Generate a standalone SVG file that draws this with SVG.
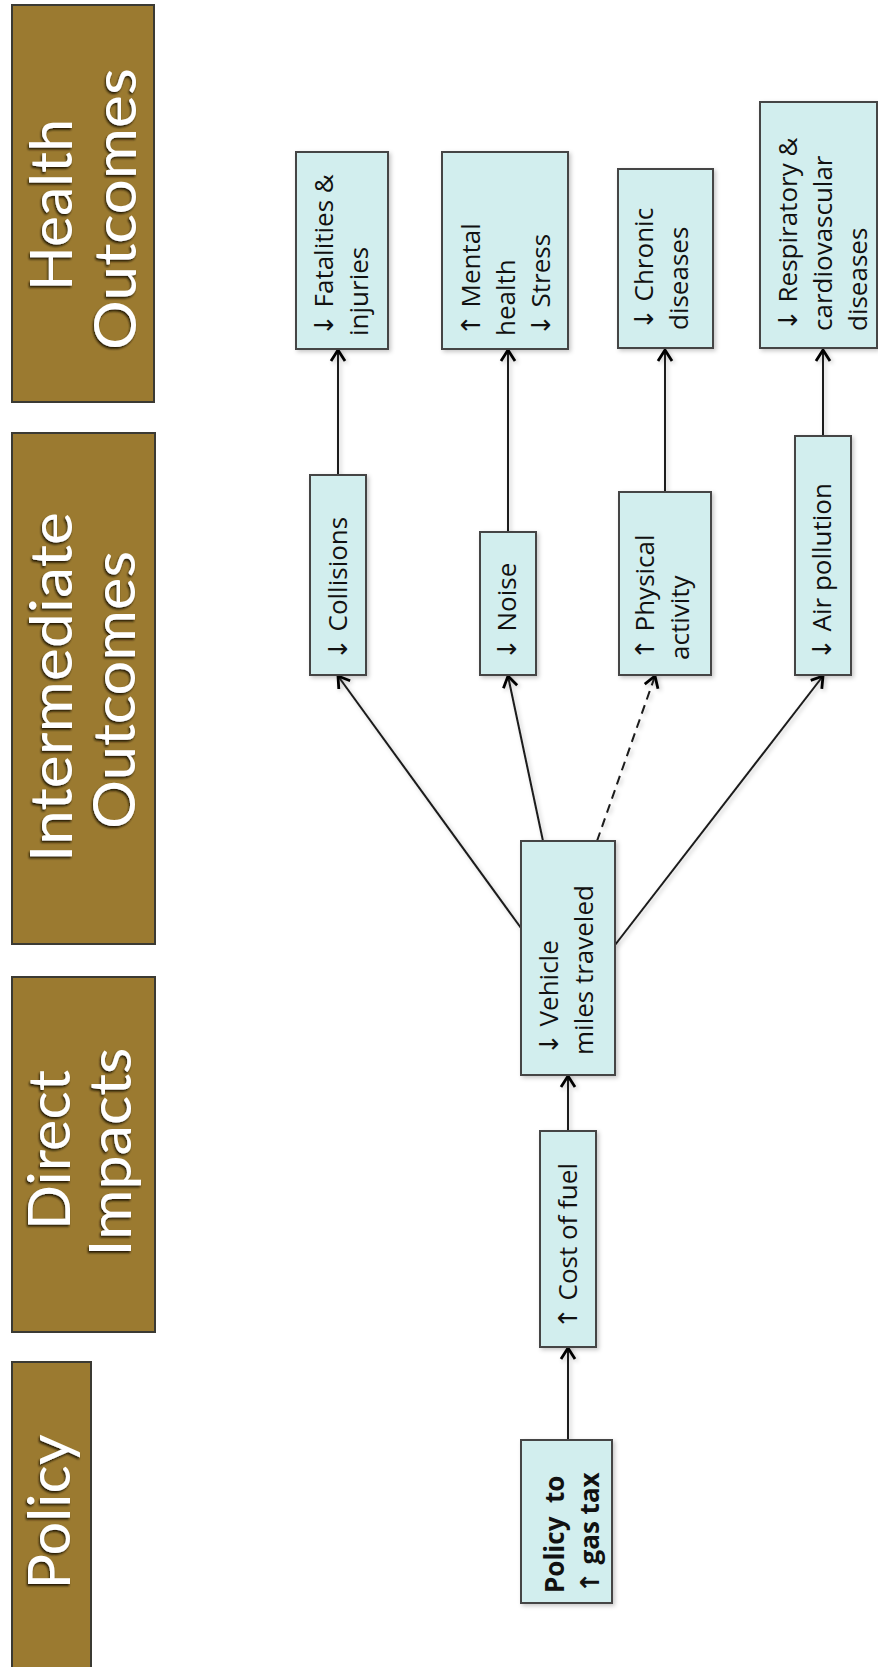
<svg xmlns="http://www.w3.org/2000/svg" width="878" height="1667" viewBox="0 0 878 1667">
<defs>
<style>
.hdr{fill:#9B7A30;stroke:#3b3a33;stroke-width:2}
.ht{font-family:Lato,"Open Sans","DejaVu Sans",sans-serif;font-weight:400;font-size:58px;fill:#ffffff;text-anchor:middle}
.box{fill:#D2EEEE;stroke:#444444;stroke-width:2}
.nt{font-family:"Open Sans","DejaVu Sans",sans-serif;font-size:26px;fill:#111111;white-space:pre}
.bold{font-weight:bold}
.con{stroke:#1a1a1a;stroke-width:2;fill:none;marker-end:url(#ah)}
.dash{stroke-dasharray:9 6}
</style>
<marker id="ah" markerUnits="userSpaceOnUse" viewBox="-13 -9 15 18" markerWidth="15" markerHeight="18" refX="0" refY="0" orient="auto">
<path d="M-11,-7 L0,0 L-11,7" fill="none" stroke="#000" stroke-width="2.8" stroke-linejoin="miter"/>
</marker>
<filter id="sh" x="-20%" y="-20%" width="140%" height="140%">
<feDropShadow dx="2" dy="2" stdDeviation="2" flood-color="#000" flood-opacity="0.22"/>
</filter>
<filter id="ts" x="-10%" y="-10%" width="120%" height="120%">
<feGaussianBlur in="SourceAlpha" stdDeviation="1.3" result="b"/>
<feOffset in="b" dx="-1.5" dy="1.5" result="o"/>
<feFlood flood-color="#1a1405" flood-opacity="0.9"/>
<feComposite in2="o" operator="in" result="s"/>
<feMerge><feMergeNode in="s"/><feMergeNode in="SourceGraphic"/></feMerge>
</filter>
</defs>
<rect width="878" height="1667" fill="#ffffff"/>

<g id="hdr-health">
<rect class="hdr" x="12" y="5" width="142" height="397"/>
<g filter="url(#ts)">
<text class="ht" transform="translate(72,205) rotate(-90)" textLength="172" lengthAdjust="spacingAndGlyphs">Health</text>
<text class="ht" transform="translate(136,209) rotate(-90)" textLength="282" lengthAdjust="spacingAndGlyphs">Outcomes</text>
</g>
</g>
<g id="hdr-intermediate">
<rect class="hdr" x="12" y="433" width="143" height="511"/>
<g filter="url(#ts)">
<text class="ht" transform="translate(72,687) rotate(-90)" textLength="350" lengthAdjust="spacingAndGlyphs">Intermediate</text>
<text class="ht" transform="translate(135,690) rotate(-90)" textLength="278" lengthAdjust="spacingAndGlyphs">Outcomes</text>
</g>
</g>
<g id="hdr-direct">
<rect class="hdr" x="12" y="977" width="143" height="355"/>
<g filter="url(#ts)">
<text class="ht" transform="translate(70,1150) rotate(-90)" textLength="160" lengthAdjust="spacingAndGlyphs">Direct</text>
<text class="ht" transform="translate(131,1152) rotate(-90)" textLength="209" lengthAdjust="spacingAndGlyphs">Impacts</text>
</g>
</g>
<g id="hdr-policy">
<rect class="hdr" x="12" y="1362" width="79" height="310"/>
<g filter="url(#ts)">
<text class="ht" transform="translate(70,1512) rotate(-90)" textLength="155" lengthAdjust="spacingAndGlyphs">Policy</text>
</g>
</g>

<g id="connectors" filter="url(#sh)">
<path class="con" d="M568,1440 L568,1348"/>
<path class="con" d="M568,1131 L568,1076"/>
<path class="con" d="M521,928 L338,676"/>
<path class="con" d="M543,841 L508,676"/>
<path class="con dash" d="M597,841 L655,676"/>
<path class="con" d="M615,945 L823,676"/>
<path class="con" d="M338,475 L338,350"/>
<path class="con" d="M508,532 L508,350"/>
<path class="con" d="M665,492 L665,350"/>
<path class="con" d="M823,436 L823,350"/>
</g>

<g id="n-fatalities">
<rect class="box" filter="url(#sh)" x="296" y="152" width="92" height="197"/>
<text class="nt" transform="rotate(-90)"><tspan x="-336" y="333">↓ Fatalities &amp;</tspan><tspan x="-336" y="368">injuries</tspan></text>
</g>
<g id="n-mental">
<rect class="box" filter="url(#sh)" x="442" y="152" width="126" height="197"/>
<text class="nt" transform="rotate(-90)"><tspan x="-336" y="480">↑ Mental</tspan><tspan x="-336" y="515">health</tspan><tspan x="-336" y="550">↓ Stress</tspan></text>
</g>
<g id="n-chronic">
<rect class="box" filter="url(#sh)" x="618" y="169" width="95" height="179"/>
<text class="nt" transform="rotate(-90)"><tspan x="-330" y="653">↓ Chronic</tspan><tspan x="-330" y="688">diseases</tspan></text>
</g>
<g id="n-respiratory">
<rect class="box" filter="url(#sh)" x="760" y="102" width="117" height="246"/>
<text class="nt" transform="rotate(-90)"><tspan x="-331" y="797">↓ Respiratory &amp;</tspan><tspan x="-331" y="832">cardiovascular</tspan><tspan x="-331" y="867">diseases</tspan></text>
</g>
<g id="n-collisions">
<rect class="box" filter="url(#sh)" x="310" y="475" width="56" height="200"/>
<text class="nt" transform="rotate(-90)"><tspan x="-660" y="347">↓ Collisions</tspan></text>
</g>
<g id="n-noise">
<rect class="box" filter="url(#sh)" x="480" y="532" width="56" height="143"/>
<text class="nt" transform="rotate(-90)"><tspan x="-660" y="516">↓ Noise</tspan></text>
</g>
<g id="n-physical">
<rect class="box" filter="url(#sh)" x="619" y="492" width="92" height="183"/>
<text class="nt" transform="rotate(-90)"><tspan x="-660" y="654">↑ Physical</tspan><tspan x="-660" y="689">activity</tspan></text>
</g>
<g id="n-air">
<rect class="box" filter="url(#sh)" x="795" y="436" width="56" height="239"/>
<text class="nt" transform="rotate(-90)"><tspan x="-660" y="831">↓ Air pollution</tspan></text>
</g>
<g id="n-vehicle">
<rect class="box" filter="url(#sh)" x="521" y="841" width="94" height="234"/>
<text class="nt" transform="rotate(-90)"><tspan x="-1055" y="558">↓ Vehicle</tspan><tspan x="-1055" y="593">miles traveled</tspan></text>
</g>
<g id="n-cost">
<rect class="box" filter="url(#sh)" x="540" y="1131" width="56" height="216"/>
<text class="nt" transform="rotate(-90)"><tspan x="-1329" y="577">↑ Cost of fuel</tspan></text>
</g>
<g id="n-policy">
<rect class="box" filter="url(#sh)" x="521" y="1440" width="91" height="163"/>
<text class="nt bold" transform="rotate(-90)"><tspan x="-1593" y="564">Policy  to</tspan><tspan x="-1593" y="599">↑ gas tax</tspan></text>
</g>
</svg>
